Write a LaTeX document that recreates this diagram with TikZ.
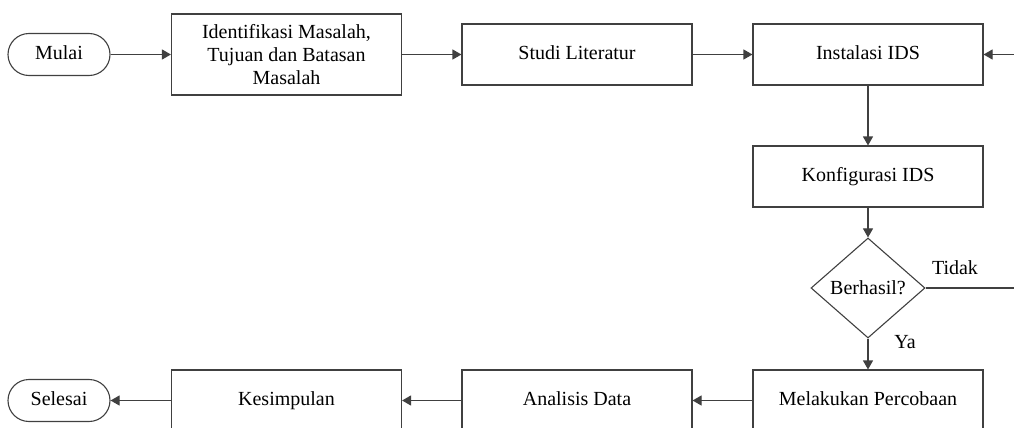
\documentclass[tikz,border=0pt]{standalone}
\usepackage{fontspec}
\setmainfont{Liberation Serif}
\usetikzlibrary{shapes.geometric, arrows.meta}

\tikzset{
    proses/.style={draw=black!75, line width=0.55pt, rectangle, minimum width=115pt, minimum height=30.5pt, align=center, inner sep=2pt},
    langkah/.style={proses, text height=7pt, text depth=2.2pt},
    terminal/.style={draw=black!75, line width=0.55pt, rectangle, rounded corners=10.5pt, minimum width=51pt, minimum height=21pt, text height=7pt, text depth=2.2pt},
    keputusan/.style={draw=black!75, line width=0.55pt, diamond, minimum width=57pt, minimum height=50pt, inner sep=0pt},
    alur/.style={draw=black!75, line width=0.55pt, -{Triangle[length=4.5pt,width=5pt]}},
    garis/.style={draw=black!75, line width=0.55pt}
}

\begin{document}
\begin{tikzpicture}[x=0.5pt, y=-0.5pt, font=\fontsize{10pt}{11.5pt}\selectfont]
        \useasboundingbox (0,0) rectangle (1014,428);
        % baris atas
        \node[terminal] (mulai) at (59,54.5) {Mulai};
        \node[proses, minimum height=40.5pt] (identifikasi) at (286.5,54.5) {Identifikasi Masalah,\\Tujuan dan Batasan\\Masalah};
        \node[langkah] (studi) at (577,54.5) {Studi Literatur};
        \node[langkah] (instalasi) at (868,54.5) {Instalasi IDS};
        % kolom kanan
        \node[langkah] (konfigurasi) at (868,176.5) {Konfigurasi IDS};
        \node[keputusan] (berhasil) at (868,288) {Berhasil?};
        \node[langkah] (percobaan) at (868,400.5) {Melakukan Percobaan};
        % baris bawah
        \node[langkah] (analisis) at (577,400.5) {Analisis Data};
        \node[langkah] (kesimpulan) at (286.5,400.5) {Kesimpulan};
        \node[terminal] (selesai) at (59,400.5) {Selesai};
        \coordinate (balik) at (1040,288);
        \coordinate (balikatas) at (1040,54.5);

        \draw[alur] (mulai) -- (identifikasi);
        \draw[alur] (identifikasi) -- (studi);
        \draw[alur] (studi) -- (instalasi);
        \draw[alur] (instalasi) -- (konfigurasi);
        \draw[alur] (konfigurasi) -- (berhasil);
        \draw[alur] (berhasil) -- (percobaan);
        \draw[alur] (percobaan) -- (analisis);
        \draw[alur] (analisis) -- (kesimpulan);
        \draw[alur] (kesimpulan) -- (selesai);
        %\draw[alur] (berhasil.east) -- (balik) -- (balikatas) -- (instalasi.east);
        \draw[garis] (berhasil.east) -- (balik) -- (balikatas);
        \draw[alur] (balikatas) -- (instalasi.east);

        \node (tidak) at (955,268) {Tidak};
        \node (ya) at (905,342) {Ya};
    \end{tikzpicture}
\end{document}
